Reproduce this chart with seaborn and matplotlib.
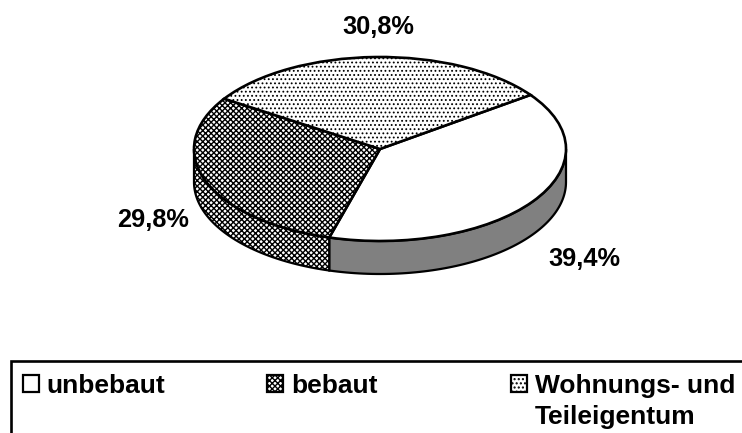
import numpy as np
import matplotlib
matplotlib.use('Agg')
import matplotlib.pyplot as plt
from matplotlib.patches import Patch, Rectangle
import seaborn as sns

# shares in percent, clockwise from the upper right edge
categories = ['unbebaut', 'bebaut', 'Wohnungs- und\nTeileigentum']
shares = [39.4, 29.8, 30.8]
share_labels = ['39,4%', '29,8%', '30,8%']

hatches = [None, 'xxxxxx', '....']
hatch_widths = [1.0, 1.0, 0.8]
side_colors = ['#808080', 'white', 'white']

sns.set_theme(style='white')
plt.rcParams['font.family'] = ['Liberation Sans', 'DejaVu Sans']
plt.rcParams['font.weight'] = 'bold'
plt.rcParams['text.color'] = 'black'
plt.rcParams['hatch.color'] = 'black'

W, H = 742, 433
fig = plt.figure(figsize=(W / 100, H / 100), dpi=100)
ax = fig.add_axes([0, 0, 1, 1])

start = 36
wedges, _ = ax.pie(shares, startangle=start, counterclock=False,
                   colors=['white'] * 3,
                   wedgeprops=dict(edgecolor='black', linewidth=1.9, zorder=3))
for w, h, hw in zip(wedges, hatches, hatch_widths):
    w.set_hatch(h)
    w.set_hatch_linewidth(hw)

# the pie gets squashed into an ellipse by stretching the axes
ax.set_aspect('auto')
cx, cy, rx, ry = 380, 149, 186, 92
ax.set_xlim(-cx / rx, (W - cx) / rx)
ax.set_ylim(-(H - cy) / ry, cy / ry)
depth = 33 / ry

# side wall of the disc, only the front half is visible
edges = start - np.cumsum([0] + shares) * 3.6
for i in range(2):
    a = max(edges[i + 1], -180)
    b = min(edges[i], 0)
    t = np.radians(np.linspace(a, b, 80))
    x = np.r_[np.cos(t), np.cos(t)[::-1]]
    y = np.r_[np.sin(t), np.sin(t)[::-1] - depth]
    side = ax.fill(x, y, facecolor=side_colors[i], hatch=hatches[i],
                   edgecolor='black', linewidth=1.6, zorder=2)[0]
    side.set_hatch_linewidth(hatch_widths[i])

fig.text(378 / W, 1 - 27 / H, share_labels[2], ha='center', va='center', fontsize=18.3)
fig.text(153 / W, 1 - 220 / H, share_labels[1], ha='center', va='center', fontsize=18.3)
fig.text(584 / W, 1 - 259 / H, share_labels[0], ha='center', va='center', fontsize=18.3)

# legend box runs off the right and bottom edge of the picture
fig.add_artist(Rectangle((10.5 / W, -0.1), 1, 1 - 361 / H + 0.1, transform=fig.transFigure,
                         facecolor='none', edgecolor='black', linewidth=1.9))

legend_x = [23, 267, 511]
for label, h, hw, lx in zip(categories, hatches, hatch_widths, legend_x):
    first_line = label.split('\n')[0]
    handle = Patch(facecolor='white', edgecolor='black', linewidth=1.6, hatch=h)
    handle.set_hatch_linewidth(hw)
    fig.legend([handle], [first_line], loc='upper left', bbox_to_anchor=(lx / W, 1 - 374 / H),
               frameon=False, fontsize=19, borderpad=0, borderaxespad=0, handlelength=0.6,
               handleheight=0.6, handletextpad=0.3)
fig.text(535 / W, 1 - 424 / H, categories[2].split('\n')[1], ha='left', va='baseline', fontsize=19)

sns.despine(left=True, bottom=True)
fig.savefig('out.png', dpi=100)
